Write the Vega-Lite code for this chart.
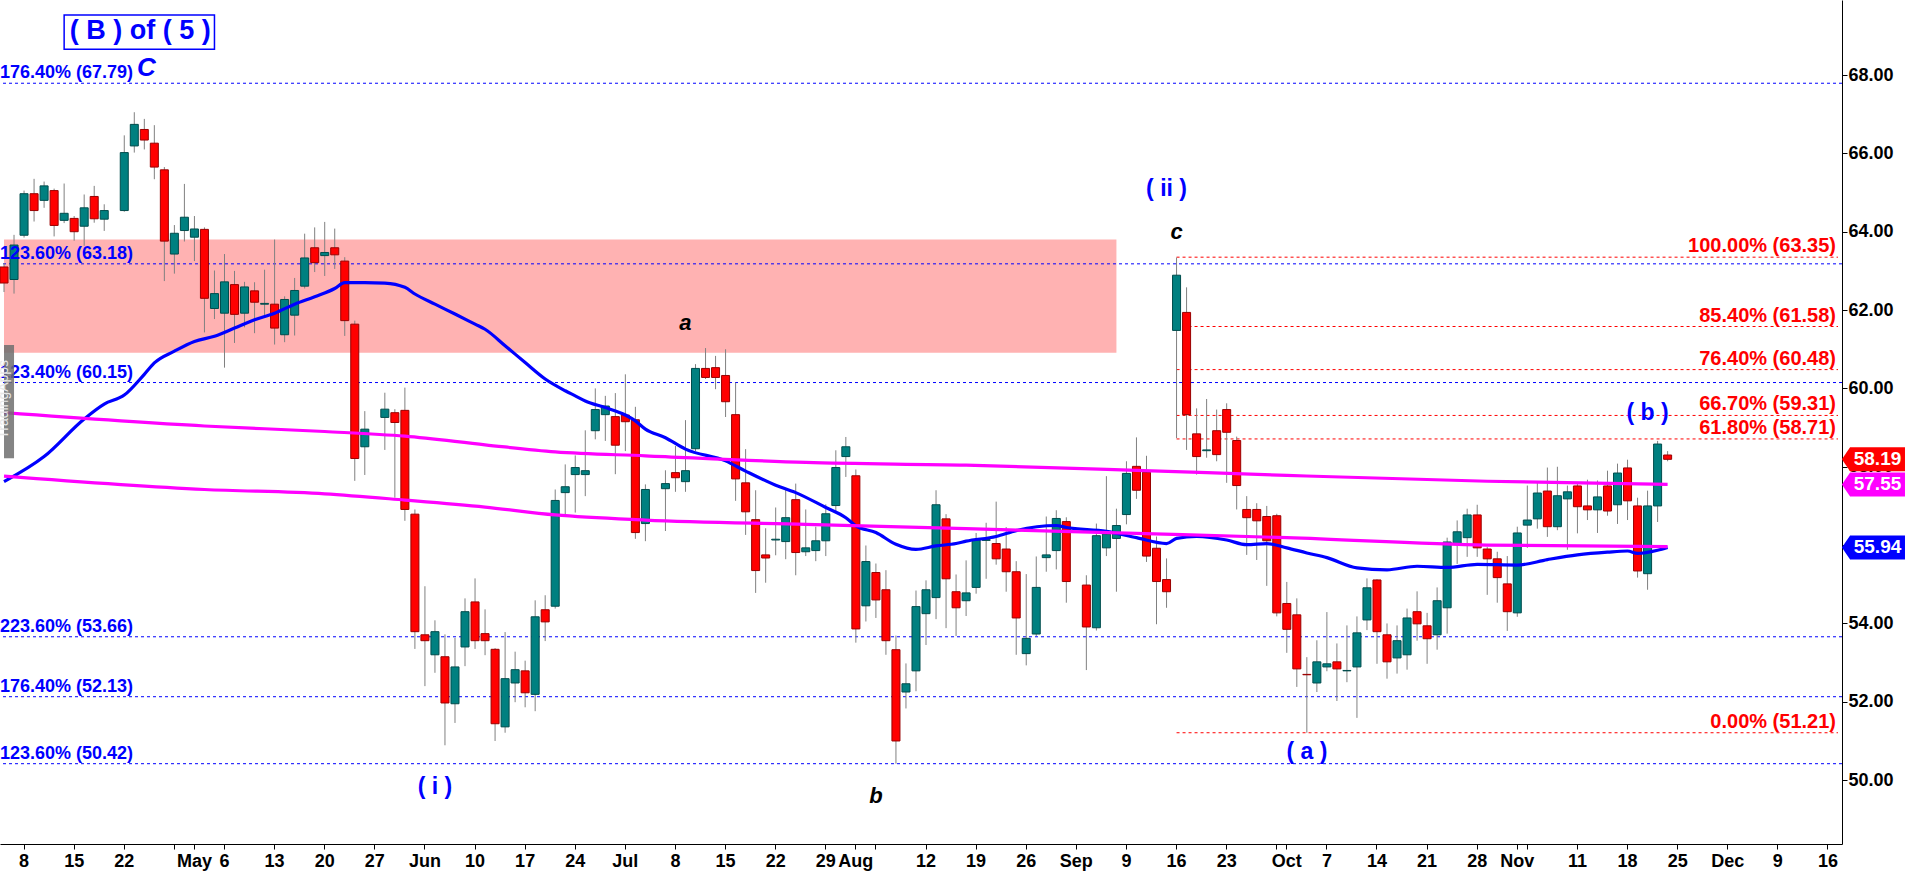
{
  "$schema": "https://vega.github.io/schema/vega-lite/v6.json",
  "width": 1842,
  "height": 844,
  "autosize": {"type": "none"},
  "padding": {"left": 0, "top": 0, "right": 66, "bottom": 33},
  "background": "white",
  "config": {"font": "Liberation Sans", "view": {"stroke": null}},
  "datasets": {
    "zone": [{"d": "2024-04-04", "d2": "2024-09-06", "lo": 60.91, "hi": 63.8}],
    "ext": [
      {"p": 67.79, "t": "176.40% (67.79)"},
      {"p": 63.18, "t": "123.60% (63.18)"},
      {"p": 60.15, "t": "123.40% (60.15)"},
      {"p": 53.66, "t": "223.60% (53.66)"},
      {"p": 52.13, "t": "176.40% (52.13)"},
      {"p": 50.42, "t": "123.60% (50.42)"}
    ],
    "ret": [
      {"p": 63.35, "t": "100.00% (63.35)"},
      {"p": 61.58, "t": "85.40% (61.58)"},
      {"p": 60.48, "t": "76.40% (60.48)"},
      {"p": 59.31, "t": "66.70% (59.31)"},
      {"p": 58.71, "t": "61.80% (58.71)"},
      {"p": 51.21, "t": "0.00% (51.21)"}
    ],
    "candles": [
      {"d": "2024-04-04", "o": 63.10, "h": 63.20, "l": 62.46, "c": 62.69},
      {"d": "2024-04-05", "o": 62.78, "h": 63.92, "l": 62.42, "c": 63.66},
      {"d": "2024-04-08", "o": 63.91, "h": 65.05, "l": 63.85, "c": 64.97},
      {"d": "2024-04-09", "o": 64.97, "h": 65.35, "l": 64.26, "c": 64.54},
      {"d": "2024-04-10", "o": 64.80, "h": 65.28, "l": 64.61, "c": 65.17},
      {"d": "2024-04-11", "o": 65.05, "h": 65.10, "l": 63.88, "c": 64.16},
      {"d": "2024-04-12", "o": 64.29, "h": 65.23, "l": 64.22, "c": 64.47},
      {"d": "2024-04-15", "o": 64.34, "h": 64.40, "l": 63.77, "c": 64.00},
      {"d": "2024-04-16", "o": 64.14, "h": 64.95, "l": 63.64, "c": 64.61},
      {"d": "2024-04-17", "o": 64.90, "h": 65.17, "l": 64.23, "c": 64.33},
      {"d": "2024-04-18", "o": 64.32, "h": 64.70, "l": 64.02, "c": 64.54},
      {"d": "2024-04-22", "o": 64.54, "h": 66.46, "l": 64.51, "c": 66.02},
      {"d": "2024-04-23", "o": 66.19, "h": 67.05, "l": 66.02, "c": 66.74},
      {"d": "2024-04-24", "o": 66.61, "h": 66.88, "l": 66.10, "c": 66.34},
      {"d": "2024-04-25", "o": 66.26, "h": 66.72, "l": 65.34, "c": 65.65},
      {"d": "2024-04-26", "o": 65.58, "h": 65.65, "l": 62.74, "c": 63.76},
      {"d": "2024-04-29", "o": 63.43, "h": 64.17, "l": 62.93, "c": 63.96},
      {"d": "2024-04-30", "o": 64.03, "h": 65.22, "l": 63.75, "c": 64.37},
      {"d": "2024-05-01", "o": 63.86, "h": 64.40, "l": 63.25, "c": 64.07},
      {"d": "2024-05-02", "o": 64.06, "h": 64.11, "l": 61.43, "c": 62.30},
      {"d": "2024-05-03", "o": 62.04, "h": 63.01, "l": 61.77, "c": 62.42},
      {"d": "2024-05-06", "o": 61.92, "h": 63.43, "l": 60.53, "c": 62.72},
      {"d": "2024-05-07", "o": 62.65, "h": 63.00, "l": 61.16, "c": 61.89},
      {"d": "2024-05-08", "o": 61.92, "h": 62.72, "l": 61.56, "c": 62.59},
      {"d": "2024-05-09", "o": 62.49, "h": 62.71, "l": 61.41, "c": 62.20},
      {"d": "2024-05-10", "o": 62.15, "h": 63.03, "l": 61.85, "c": 62.17},
      {"d": "2024-05-13", "o": 62.15, "h": 63.80, "l": 61.12, "c": 61.54},
      {"d": "2024-05-14", "o": 61.37, "h": 62.35, "l": 61.18, "c": 62.27},
      {"d": "2024-05-15", "o": 61.87, "h": 62.82, "l": 61.35, "c": 62.50},
      {"d": "2024-05-16", "o": 62.61, "h": 63.95, "l": 62.55, "c": 63.33},
      {"d": "2024-05-17", "o": 63.59, "h": 64.11, "l": 62.97, "c": 63.21},
      {"d": "2024-05-20", "o": 63.39, "h": 64.25, "l": 62.87, "c": 63.47},
      {"d": "2024-05-21", "o": 63.59, "h": 64.08, "l": 63.05, "c": 63.41},
      {"d": "2024-05-22", "o": 63.25, "h": 63.35, "l": 61.34, "c": 61.73},
      {"d": "2024-05-23", "o": 61.64, "h": 61.73, "l": 57.64, "c": 58.21},
      {"d": "2024-05-24", "o": 58.51, "h": 59.42, "l": 57.79, "c": 58.96},
      {"d": "2024-05-28", "o": 59.26, "h": 59.89, "l": 58.43, "c": 59.47},
      {"d": "2024-05-29", "o": 59.38, "h": 59.47, "l": 57.21, "c": 59.13},
      {"d": "2024-05-30", "o": 59.44, "h": 60.02, "l": 56.62, "c": 56.91},
      {"d": "2024-05-31", "o": 56.79, "h": 56.91, "l": 53.35, "c": 53.79},
      {"d": "2024-06-03", "o": 53.71, "h": 54.95, "l": 52.40, "c": 53.56},
      {"d": "2024-06-04", "o": 53.20, "h": 54.08, "l": 52.74, "c": 53.79},
      {"d": "2024-06-05", "o": 53.15, "h": 53.72, "l": 50.89, "c": 51.97},
      {"d": "2024-06-06", "o": 51.95, "h": 53.63, "l": 51.46, "c": 52.89},
      {"d": "2024-06-07", "o": 53.40, "h": 54.64, "l": 52.91, "c": 54.30},
      {"d": "2024-06-10", "o": 54.55, "h": 55.15, "l": 53.35, "c": 53.56},
      {"d": "2024-06-11", "o": 53.74, "h": 54.36, "l": 53.19, "c": 53.56},
      {"d": "2024-06-12", "o": 53.34, "h": 53.37, "l": 51.00, "c": 51.44},
      {"d": "2024-06-13", "o": 51.36, "h": 53.78, "l": 51.21, "c": 52.59},
      {"d": "2024-06-14", "o": 52.48, "h": 53.28, "l": 51.99, "c": 52.82},
      {"d": "2024-06-17", "o": 52.79, "h": 53.05, "l": 51.86, "c": 52.23},
      {"d": "2024-06-18", "o": 52.19, "h": 54.59, "l": 51.76, "c": 54.17},
      {"d": "2024-06-19", "o": 54.35, "h": 54.72, "l": 53.55, "c": 54.04},
      {"d": "2024-06-20", "o": 54.44, "h": 57.42, "l": 54.38, "c": 57.14},
      {"d": "2024-06-21", "o": 57.34, "h": 58.06, "l": 56.79, "c": 57.49},
      {"d": "2024-06-24", "o": 57.80, "h": 58.29, "l": 56.83, "c": 57.98},
      {"d": "2024-06-25", "o": 57.80, "h": 58.93, "l": 57.25, "c": 57.90},
      {"d": "2024-06-26", "o": 58.92, "h": 60.00, "l": 58.70, "c": 59.46},
      {"d": "2024-06-27", "o": 59.33, "h": 59.81, "l": 58.66, "c": 59.55},
      {"d": "2024-06-28", "o": 59.28, "h": 59.88, "l": 57.81, "c": 58.55},
      {"d": "2024-07-01", "o": 59.32, "h": 60.36, "l": 58.40, "c": 59.15},
      {"d": "2024-07-02", "o": 59.20, "h": 59.53, "l": 56.16, "c": 56.32},
      {"d": "2024-07-03", "o": 56.55, "h": 57.55, "l": 56.10, "c": 57.42},
      {"d": "2024-07-05", "o": 57.44, "h": 57.91, "l": 56.36, "c": 57.57},
      {"d": "2024-07-08", "o": 57.85, "h": 58.53, "l": 57.36, "c": 57.72},
      {"d": "2024-07-09", "o": 57.62, "h": 59.19, "l": 57.36, "c": 57.90},
      {"d": "2024-07-10", "o": 58.46, "h": 60.62, "l": 58.40, "c": 60.51},
      {"d": "2024-07-11", "o": 60.51, "h": 61.03, "l": 60.24, "c": 60.28},
      {"d": "2024-07-12", "o": 60.53, "h": 60.83, "l": 59.98, "c": 60.28},
      {"d": "2024-07-15", "o": 60.33, "h": 61.00, "l": 59.27, "c": 59.66},
      {"d": "2024-07-16", "o": 59.33, "h": 60.15, "l": 57.13, "c": 57.69},
      {"d": "2024-07-17", "o": 57.59, "h": 58.45, "l": 56.26, "c": 56.85},
      {"d": "2024-07-18", "o": 56.65, "h": 57.40, "l": 54.78, "c": 55.35},
      {"d": "2024-07-19", "o": 55.75, "h": 56.43, "l": 55.04, "c": 55.67},
      {"d": "2024-07-22", "o": 56.13, "h": 56.96, "l": 55.74, "c": 56.15},
      {"d": "2024-07-23", "o": 56.09, "h": 57.42, "l": 55.64, "c": 56.70},
      {"d": "2024-07-24", "o": 57.16, "h": 57.57, "l": 55.23, "c": 55.81},
      {"d": "2024-07-25", "o": 55.83, "h": 56.91, "l": 55.72, "c": 55.93},
      {"d": "2024-07-26", "o": 55.86, "h": 56.47, "l": 55.59, "c": 56.11},
      {"d": "2024-07-29", "o": 56.11, "h": 57.04, "l": 55.72, "c": 56.80},
      {"d": "2024-07-30", "o": 57.01, "h": 58.42, "l": 56.85, "c": 57.98},
      {"d": "2024-07-31", "o": 58.26, "h": 58.76, "l": 57.74, "c": 58.51},
      {"d": "2024-08-01", "o": 57.77, "h": 57.93, "l": 53.51, "c": 53.86},
      {"d": "2024-08-02", "o": 54.45, "h": 55.99, "l": 54.05, "c": 55.58},
      {"d": "2024-08-05", "o": 55.30, "h": 55.53, "l": 54.14, "c": 54.60},
      {"d": "2024-08-06", "o": 54.86, "h": 55.36, "l": 53.20, "c": 53.56},
      {"d": "2024-08-07", "o": 53.33, "h": 53.69, "l": 50.42, "c": 51.00},
      {"d": "2024-08-08", "o": 52.25, "h": 52.98, "l": 51.83, "c": 52.46},
      {"d": "2024-08-09", "o": 52.79, "h": 54.84, "l": 52.27, "c": 54.43},
      {"d": "2024-08-12", "o": 54.25, "h": 55.10, "l": 53.45, "c": 54.86},
      {"d": "2024-08-13", "o": 54.66, "h": 57.40, "l": 54.11, "c": 57.03},
      {"d": "2024-08-14", "o": 56.67, "h": 56.79, "l": 53.88, "c": 55.14},
      {"d": "2024-08-15", "o": 54.81, "h": 55.25, "l": 53.68, "c": 54.40},
      {"d": "2024-08-16", "o": 54.58, "h": 55.61, "l": 54.19, "c": 54.78},
      {"d": "2024-08-19", "o": 54.92, "h": 56.31, "l": 54.76, "c": 56.13},
      {"d": "2024-08-20", "o": 56.12, "h": 56.57, "l": 55.14, "c": 56.14},
      {"d": "2024-08-21", "o": 56.04, "h": 57.11, "l": 55.50, "c": 55.65},
      {"d": "2024-08-22", "o": 55.90, "h": 56.46, "l": 54.81, "c": 55.32},
      {"d": "2024-08-23", "o": 55.32, "h": 55.59, "l": 53.20, "c": 54.14},
      {"d": "2024-08-26", "o": 53.23, "h": 55.26, "l": 52.93, "c": 53.62},
      {"d": "2024-08-27", "o": 53.73, "h": 55.71, "l": 53.68, "c": 54.92},
      {"d": "2024-08-28", "o": 55.68, "h": 56.73, "l": 55.32, "c": 55.75},
      {"d": "2024-08-29", "o": 55.86, "h": 56.89, "l": 55.38, "c": 56.68},
      {"d": "2024-08-30", "o": 56.60, "h": 56.71, "l": 54.53, "c": 55.07},
      {"d": "2024-09-03", "o": 54.98, "h": 55.23, "l": 52.81, "c": 53.91},
      {"d": "2024-09-04", "o": 53.89, "h": 56.55, "l": 53.82, "c": 56.24},
      {"d": "2024-09-05", "o": 55.93, "h": 57.76, "l": 55.72, "c": 56.28},
      {"d": "2024-09-06", "o": 56.17, "h": 56.93, "l": 54.81, "c": 56.50},
      {"d": "2024-09-09", "o": 56.78, "h": 58.14, "l": 56.53, "c": 57.83},
      {"d": "2024-09-10", "o": 58.01, "h": 58.75, "l": 57.18, "c": 57.40},
      {"d": "2024-09-11", "o": 57.86, "h": 58.28, "l": 55.57, "c": 55.72},
      {"d": "2024-09-12", "o": 55.92, "h": 56.22, "l": 53.98, "c": 55.07},
      {"d": "2024-09-13", "o": 55.12, "h": 55.66, "l": 54.40, "c": 54.81},
      {"d": "2024-09-16", "o": 61.48, "h": 63.34, "l": 58.73, "c": 62.89},
      {"d": "2024-09-17", "o": 61.94, "h": 62.58, "l": 58.43, "c": 59.33},
      {"d": "2024-09-18", "o": 58.84, "h": 59.49, "l": 57.80, "c": 58.26},
      {"d": "2024-09-19", "o": 58.41, "h": 59.73, "l": 58.23, "c": 58.43},
      {"d": "2024-09-20", "o": 58.92, "h": 59.46, "l": 58.14, "c": 58.31},
      {"d": "2024-09-23", "o": 59.46, "h": 59.62, "l": 57.59, "c": 58.88},
      {"d": "2024-09-24", "o": 58.67, "h": 58.77, "l": 56.91, "c": 57.52},
      {"d": "2024-09-25", "o": 56.91, "h": 57.25, "l": 55.75, "c": 56.70},
      {"d": "2024-09-26", "o": 56.91, "h": 57.07, "l": 55.62, "c": 56.62},
      {"d": "2024-09-27", "o": 56.73, "h": 57.00, "l": 54.96, "c": 56.11},
      {"d": "2024-09-30", "o": 56.75, "h": 56.80, "l": 54.18, "c": 54.27},
      {"d": "2024-10-01", "o": 54.51, "h": 55.06, "l": 53.25, "c": 53.85},
      {"d": "2024-10-02", "o": 54.22, "h": 54.64, "l": 52.38, "c": 52.84},
      {"d": "2024-10-03", "o": 52.70, "h": 53.14, "l": 51.21, "c": 52.69},
      {"d": "2024-10-04", "o": 52.48, "h": 53.57, "l": 52.25, "c": 53.02},
      {"d": "2024-10-07", "o": 52.89, "h": 54.29, "l": 52.78, "c": 52.97},
      {"d": "2024-10-08", "o": 53.02, "h": 53.49, "l": 52.02, "c": 52.84},
      {"d": "2024-10-09", "o": 52.79, "h": 53.95, "l": 52.50, "c": 52.80},
      {"d": "2024-10-10", "o": 52.89, "h": 54.18, "l": 51.59, "c": 53.76},
      {"d": "2024-10-11", "o": 54.09, "h": 55.15, "l": 53.83, "c": 54.91},
      {"d": "2024-10-14", "o": 55.11, "h": 55.13, "l": 52.97, "c": 53.79},
      {"d": "2024-10-15", "o": 53.71, "h": 54.00, "l": 52.59, "c": 53.02},
      {"d": "2024-10-16", "o": 53.12, "h": 53.95, "l": 52.72, "c": 53.56},
      {"d": "2024-10-17", "o": 53.20, "h": 54.38, "l": 52.82, "c": 54.14},
      {"d": "2024-10-18", "o": 54.30, "h": 54.82, "l": 53.56, "c": 53.99},
      {"d": "2024-10-21", "o": 53.94, "h": 54.27, "l": 52.97, "c": 53.61},
      {"d": "2024-10-22", "o": 53.71, "h": 54.92, "l": 53.33, "c": 54.58},
      {"d": "2024-10-23", "o": 54.40, "h": 56.19, "l": 53.74, "c": 56.08},
      {"d": "2024-10-24", "o": 56.03, "h": 56.63, "l": 55.52, "c": 56.34},
      {"d": "2024-10-25", "o": 56.19, "h": 56.93, "l": 55.70, "c": 56.77},
      {"d": "2024-10-28", "o": 56.77, "h": 57.03, "l": 55.70, "c": 55.93},
      {"d": "2024-10-29", "o": 55.90, "h": 55.95, "l": 54.73, "c": 55.65},
      {"d": "2024-10-30", "o": 55.65, "h": 55.83, "l": 54.53, "c": 55.17},
      {"d": "2024-10-31", "o": 55.01, "h": 55.72, "l": 53.81, "c": 54.30},
      {"d": "2024-11-01", "o": 54.27, "h": 56.47, "l": 54.17, "c": 56.31},
      {"d": "2024-11-04", "o": 56.51, "h": 57.52, "l": 55.93, "c": 56.64},
      {"d": "2024-11-05", "o": 56.67, "h": 57.62, "l": 56.42, "c": 57.33},
      {"d": "2024-11-06", "o": 57.38, "h": 57.98, "l": 56.21, "c": 56.47},
      {"d": "2024-11-07", "o": 56.47, "h": 58.00, "l": 56.38, "c": 57.26},
      {"d": "2024-11-08", "o": 57.18, "h": 57.52, "l": 55.88, "c": 57.36},
      {"d": "2024-11-11", "o": 57.51, "h": 57.60, "l": 56.30, "c": 56.98},
      {"d": "2024-11-12", "o": 57.00, "h": 57.67, "l": 56.64, "c": 56.90},
      {"d": "2024-11-13", "o": 56.90, "h": 57.65, "l": 56.31, "c": 57.23},
      {"d": "2024-11-14", "o": 57.51, "h": 57.90, "l": 56.75, "c": 56.87},
      {"d": "2024-11-15", "o": 57.03, "h": 58.08, "l": 56.54, "c": 57.84},
      {"d": "2024-11-18", "o": 57.97, "h": 58.18, "l": 56.64, "c": 57.13},
      {"d": "2024-11-19", "o": 57.00, "h": 57.21, "l": 55.17, "c": 55.34},
      {"d": "2024-11-20", "o": 55.27, "h": 57.39, "l": 54.86, "c": 57.00},
      {"d": "2024-11-21", "o": 57.00, "h": 58.66, "l": 56.59, "c": 58.58},
      {"d": "2024-11-22", "o": 58.30, "h": 58.40, "l": 58.14, "c": 58.19}
    ],
    "ma": [
      {"d": "2024-04-04", "s": "ma50", "v": 57.62},
      {"d": "2024-04-10", "s": "ma50", "v": 58.26},
      {"d": "2024-04-16", "s": "ma50", "v": 59.22},
      {"d": "2024-04-18", "s": "ma50", "v": 59.60},
      {"d": "2024-04-22", "s": "ma50", "v": 59.83},
      {"d": "2024-04-24", "s": "ma50", "v": 60.36},
      {"d": "2024-04-25", "s": "ma50", "v": 60.65},
      {"d": "2024-04-29", "s": "ma50", "v": 60.95},
      {"d": "2024-05-01", "s": "ma50", "v": 61.20},
      {"d": "2024-05-03", "s": "ma50", "v": 61.33},
      {"d": "2024-05-07", "s": "ma50", "v": 61.54},
      {"d": "2024-05-09", "s": "ma50", "v": 61.75},
      {"d": "2024-05-13", "s": "ma50", "v": 61.92},
      {"d": "2024-05-15", "s": "ma50", "v": 62.15},
      {"d": "2024-05-17", "s": "ma50", "v": 62.34},
      {"d": "2024-05-21", "s": "ma50", "v": 62.55},
      {"d": "2024-05-22", "s": "ma50", "v": 62.70},
      {"d": "2024-05-24", "s": "ma50", "v": 62.70},
      {"d": "2024-05-28", "s": "ma50", "v": 62.69},
      {"d": "2024-05-30", "s": "ma50", "v": 62.58},
      {"d": "2024-05-31", "s": "ma50", "v": 62.41},
      {"d": "2024-06-04", "s": "ma50", "v": 62.15},
      {"d": "2024-06-06", "s": "ma50", "v": 61.90},
      {"d": "2024-06-10", "s": "ma50", "v": 61.64},
      {"d": "2024-06-11", "s": "ma50", "v": 61.51},
      {"d": "2024-06-13", "s": "ma50", "v": 61.09},
      {"d": "2024-06-17", "s": "ma50", "v": 60.66},
      {"d": "2024-06-19", "s": "ma50", "v": 60.24},
      {"d": "2024-06-21", "s": "ma50", "v": 59.94},
      {"d": "2024-06-24", "s": "ma50", "v": 59.81},
      {"d": "2024-06-25", "s": "ma50", "v": 59.68},
      {"d": "2024-06-27", "s": "ma50", "v": 59.51},
      {"d": "2024-07-01", "s": "ma50", "v": 59.32},
      {"d": "2024-07-02", "s": "ma50", "v": 59.17},
      {"d": "2024-07-03", "s": "ma50", "v": 58.96},
      {"d": "2024-07-05", "s": "ma50", "v": 58.74},
      {"d": "2024-07-09", "s": "ma50", "v": 58.45},
      {"d": "2024-07-15", "s": "ma50", "v": 58.15},
      {"d": "2024-07-17", "s": "ma50", "v": 57.89},
      {"d": "2024-07-22", "s": "ma50", "v": 57.53},
      {"d": "2024-07-24", "s": "ma50", "v": 57.34},
      {"d": "2024-07-29", "s": "ma50", "v": 56.96},
      {"d": "2024-07-31", "s": "ma50", "v": 56.70},
      {"d": "2024-08-01", "s": "ma50", "v": 56.49},
      {"d": "2024-08-05", "s": "ma50", "v": 56.32},
      {"d": "2024-08-07", "s": "ma50", "v": 56.02},
      {"d": "2024-08-09", "s": "ma50", "v": 55.89},
      {"d": "2024-08-13", "s": "ma50", "v": 55.98},
      {"d": "2024-08-15", "s": "ma50", "v": 56.04},
      {"d": "2024-08-16", "s": "ma50", "v": 56.10},
      {"d": "2024-08-21", "s": "ma50", "v": 56.22},
      {"d": "2024-08-23", "s": "ma50", "v": 56.37},
      {"d": "2024-08-29", "s": "ma50", "v": 56.50},
      {"d": "2024-08-30", "s": "ma50", "v": 56.45},
      {"d": "2024-09-05", "s": "ma50", "v": 56.35},
      {"d": "2024-09-10", "s": "ma50", "v": 56.19},
      {"d": "2024-09-13", "s": "ma50", "v": 56.04},
      {"d": "2024-09-16", "s": "ma50", "v": 56.17},
      {"d": "2024-09-18", "s": "ma50", "v": 56.22},
      {"d": "2024-09-23", "s": "ma50", "v": 56.13},
      {"d": "2024-09-25", "s": "ma50", "v": 56.01},
      {"d": "2024-09-27", "s": "ma50", "v": 56.04},
      {"d": "2024-10-01", "s": "ma50", "v": 55.93},
      {"d": "2024-10-03", "s": "ma50", "v": 55.80},
      {"d": "2024-10-07", "s": "ma50", "v": 55.68},
      {"d": "2024-10-10", "s": "ma50", "v": 55.42},
      {"d": "2024-10-15", "s": "ma50", "v": 55.37},
      {"d": "2024-10-18", "s": "ma50", "v": 55.46},
      {"d": "2024-10-23", "s": "ma50", "v": 55.43},
      {"d": "2024-10-28", "s": "ma50", "v": 55.51},
      {"d": "2024-11-01", "s": "ma50", "v": 55.49},
      {"d": "2024-11-06", "s": "ma50", "v": 55.63},
      {"d": "2024-11-11", "s": "ma50", "v": 55.75},
      {"d": "2024-11-14", "s": "ma50", "v": 55.82},
      {"d": "2024-11-18", "s": "ma50", "v": 55.85},
      {"d": "2024-11-19", "s": "ma50", "v": 55.79},
      {"d": "2024-11-21", "s": "ma50", "v": 55.87},
      {"d": "2024-11-22", "s": "ma50", "v": 55.94},
      {"d": "2024-04-04", "s": "hi", "v": 59.38},
      {"d": "2024-05-02", "s": "hi", "v": 59.04},
      {"d": "2024-05-20", "s": "hi", "v": 58.90},
      {"d": "2024-05-30", "s": "hi", "v": 58.78},
      {"d": "2024-06-11", "s": "hi", "v": 58.56},
      {"d": "2024-06-20", "s": "hi", "v": 58.38},
      {"d": "2024-07-03", "s": "hi", "v": 58.28},
      {"d": "2024-07-25", "s": "hi", "v": 58.11},
      {"d": "2024-08-16", "s": "hi", "v": 58.04},
      {"d": "2024-09-10", "s": "hi", "v": 57.91},
      {"d": "2024-10-01", "s": "hi", "v": 57.78},
      {"d": "2024-10-29", "s": "hi", "v": 57.63},
      {"d": "2024-11-22", "s": "hi", "v": 57.55},
      {"d": "2024-04-04", "s": "lo", "v": 57.76},
      {"d": "2024-05-02", "s": "lo", "v": 57.42},
      {"d": "2024-05-20", "s": "lo", "v": 57.31},
      {"d": "2024-05-30", "s": "lo", "v": 57.15},
      {"d": "2024-06-11", "s": "lo", "v": 56.97},
      {"d": "2024-06-20", "s": "lo", "v": 56.77},
      {"d": "2024-07-03", "s": "lo", "v": 56.64},
      {"d": "2024-07-25", "s": "lo", "v": 56.53},
      {"d": "2024-08-16", "s": "lo", "v": 56.42},
      {"d": "2024-09-10", "s": "lo", "v": 56.30},
      {"d": "2024-10-01", "s": "lo", "v": 56.19},
      {"d": "2024-10-29", "s": "lo", "v": 56.00},
      {"d": "2024-11-22", "s": "lo", "v": 55.96}
    ],
    "waves": [
      {"d": "2024-06-04", "p": 49.82, "t": "( i )"},
      {"d": "2024-09-13", "p": 65.10, "t": "( ii )"},
      {"d": "2024-10-03", "p": 50.72, "t": "( a )"},
      {"d": "2024-11-20", "p": 59.37, "t": "( b )"}
    ],
    "subwaves": [
      {"d": "2024-07-09", "p": 61.68, "t": "a"},
      {"d": "2024-08-05", "p": 49.59, "t": "b"},
      {"d": "2024-09-16", "p": 63.99, "t": "c"}
    ],
    "major": [{"d": "2024-04-23", "p": 68.18, "t": "C"}],
    "titlebox": [{"d": "2024-04-12", "d2": "2024-05-03", "p": 69.53, "p2": 68.66}],
    "titletext": [{"d": "2024-04-24", "p": 69.12, "t": "( B ) of ( 5 )"}],
    "mark": [{"d": "2024-04-04", "d2": "2024-04-05", "p": 61.11, "p2": 58.22, "pm": 59.67, "t": "TradingApps"}]
  },
  "layer": [
    {
      "data": {"name": "zone"},
      "mark": {"type": "rect", "color": "#ffb2b2"},
      "encoding": {
        "x": {
          "field": "d",
          "type": "ordinal",
          "title": null,
          "scale": {
            "type": "band",
            "paddingInner": 0.2,
            "paddingOuter": 0,
            "domain": [
              "2024-04-04","2024-04-05","2024-04-08","2024-04-09","2024-04-10","2024-04-11","2024-04-12","2024-04-15","2024-04-16","2024-04-17","2024-04-18","2024-04-19","2024-04-22","2024-04-23","2024-04-24","2024-04-25","2024-04-26","2024-04-29","2024-04-30",
              "2024-05-01","2024-05-02","2024-05-03","2024-05-06","2024-05-07","2024-05-08","2024-05-09","2024-05-10","2024-05-13","2024-05-14","2024-05-15","2024-05-16","2024-05-17","2024-05-20","2024-05-21","2024-05-22","2024-05-23","2024-05-24","2024-05-27","2024-05-28","2024-05-29","2024-05-30","2024-05-31",
              "2024-06-03","2024-06-04","2024-06-05","2024-06-06","2024-06-07","2024-06-10","2024-06-11","2024-06-12","2024-06-13","2024-06-14","2024-06-17","2024-06-18","2024-06-19","2024-06-20","2024-06-21","2024-06-24","2024-06-25","2024-06-26","2024-06-27","2024-06-28",
              "2024-07-01","2024-07-02","2024-07-03","2024-07-04","2024-07-05","2024-07-08","2024-07-09","2024-07-10","2024-07-11","2024-07-12","2024-07-15","2024-07-16","2024-07-17","2024-07-18","2024-07-19","2024-07-22","2024-07-23","2024-07-24","2024-07-25","2024-07-26","2024-07-29","2024-07-30","2024-07-31",
              "2024-08-01","2024-08-02","2024-08-05","2024-08-06","2024-08-07","2024-08-08","2024-08-09","2024-08-12","2024-08-13","2024-08-14","2024-08-15","2024-08-16","2024-08-19","2024-08-20","2024-08-21","2024-08-22","2024-08-23","2024-08-26","2024-08-27","2024-08-28","2024-08-29","2024-08-30",
              "2024-09-02","2024-09-03","2024-09-04","2024-09-05","2024-09-06","2024-09-09","2024-09-10","2024-09-11","2024-09-12","2024-09-13","2024-09-16","2024-09-17","2024-09-18","2024-09-19","2024-09-20","2024-09-23","2024-09-24","2024-09-25","2024-09-26","2024-09-27","2024-09-30",
              "2024-10-01","2024-10-02","2024-10-03","2024-10-04","2024-10-07","2024-10-08","2024-10-09","2024-10-10","2024-10-11","2024-10-14","2024-10-15","2024-10-16","2024-10-17","2024-10-18","2024-10-21","2024-10-22","2024-10-23","2024-10-24","2024-10-25","2024-10-28","2024-10-29","2024-10-30","2024-10-31",
              "2024-11-01","2024-11-04","2024-11-05","2024-11-06","2024-11-07","2024-11-08","2024-11-11","2024-11-12","2024-11-13","2024-11-14","2024-11-15","2024-11-18","2024-11-19","2024-11-20","2024-11-21","2024-11-22","2024-11-25","2024-11-26","2024-11-27","2024-11-28","2024-11-29",
              "2024-12-02","2024-12-03","2024-12-04","2024-12-05","2024-12-06","2024-12-09","2024-12-10","2024-12-11","2024-12-12","2024-12-13","2024-12-16","2024-12-17"
            ]
          },
          "axis": {
            "title": null,
            "values": ["2024-04-08","2024-04-15","2024-04-22","2024-04-29","2024-05-01","2024-05-06","2024-05-13","2024-05-20","2024-05-27","2024-06-03","2024-06-10","2024-06-17","2024-06-24","2024-07-01","2024-07-08","2024-07-15","2024-07-22","2024-07-29","2024-08-01","2024-08-05","2024-08-12","2024-08-19","2024-08-26","2024-09-02","2024-09-09","2024-09-16","2024-09-23","2024-09-30","2024-10-01","2024-10-07","2024-10-14","2024-10-21","2024-10-28","2024-11-01","2024-11-04","2024-11-11","2024-11-18","2024-11-25","2024-12-02","2024-12-09","2024-12-16"],
            "labelExpr": "indexof(['2024-04-29','2024-08-05','2024-09-30','2024-11-04'], datum.value) >= 0 ? '' : indexof(['2024-05-01','2024-06-03','2024-07-01','2024-08-01','2024-09-02','2024-10-01','2024-11-01','2024-12-02'], datum.value) >= 0 ? timeFormat(datetime(toNumber(substring(datum.value, 0, 4)), toNumber(substring(datum.value, 5, 7)) - 1, 1), '%b') : '' + toNumber(substring(datum.value, 8, 10))",
            "labelAngle": 0,
            "labelOverlap": false,
            "labelFont": "Liberation Sans",
            "labelFontSize": 18,
            "labelFontWeight": "bold",
            "labelColor": "#000000",
            "labelPadding": 3,
            "tickSize": 5,
            "tickColor": "#000000",
            "domainColor": "#000000",
            "grid": false
          }
        },
        "x2": {"field": "d2"},
        "y": {
          "field": "lo",
          "type": "quantitative",
          "title": null,
          "scale": {"domain": [48.37, 69.915], "nice": false, "zero": false},
          "axis": {
            "title": null,
            "orient": "right",
            "values": [50, 52, 54, 56, 58, 60, 62, 64, 66, 68],
            "format": ".2f",
            "labelFont": "Liberation Sans",
            "labelFontSize": 18,
            "labelFontWeight": "bold",
            "labelColor": "#000000",
            "labelPadding": 1,
            "tickSize": 5,
            "tickColor": "#000000",
            "domainColor": "#000000",
            "grid": false
          }
        },
        "y2": {"field": "hi"}
      }
    },
    {
      "data": {"name": "ext"},
      "mark": {"type": "rule", "color": "#0000ff", "strokeWidth": 1, "strokeDash": [3, 3]},
      "encoding": {"y": {"field": "p", "type": "quantitative", "title": null}}
    },
    {
      "data": {"name": "ret"},
      "mark": {"type": "rule", "color": "#ff0000", "strokeWidth": 1, "strokeDash": [3, 3]},
      "encoding": {
        "x": {"datum": "2024-09-16", "type": "ordinal", "title": null},
        "x2": {"datum": "2024-12-17"},
        "y": {"field": "p", "type": "quantitative", "title": null}
      }
    },
    {
      "data": {"name": "candles"},
      "mark": {"type": "rule", "color": "#808080", "strokeWidth": 1},
      "encoding": {
        "x": {"field": "d", "type": "ordinal", "title": null},
        "y": {"field": "l", "type": "quantitative", "title": null},
        "y2": {"field": "h"}
      }
    },
    {
      "data": {"name": "candles"},
      "mark": {"type": "bar", "strokeWidth": 1},
      "encoding": {
        "x": {"field": "d", "type": "ordinal", "title": null},
        "y": {"field": "o", "type": "quantitative", "title": null},
        "y2": {"field": "c"},
        "fill": {"condition": {"test": "datum.c >= datum.o", "value": "#008080"}, "value": "#ff0000"},
        "stroke": {"condition": {"test": "datum.c >= datum.o", "value": "#004c4c"}, "value": "#990000"}
      }
    },
    {
      "data": {"name": "ma"},
      "mark": {"type": "line", "strokeWidth": 3.2, "interpolate": "monotone"},
      "encoding": {
        "x": {"field": "d", "type": "ordinal", "title": null},
        "y": {"field": "v", "type": "quantitative", "title": null},
        "detail": {"field": "s"},
        "color": {"condition": {"test": "datum.s == 'ma50'", "value": "#0000ff"}, "value": "#ff00ff"}
      }
    },
    {
      "data": {"name": "ext"},
      "mark": {"type": "text", "align": "left", "baseline": "alphabetic", "dx": -4, "dy": -5, "fontSize": 18, "fontWeight": "bold", "color": "#0000ff"},
      "encoding": {
        "x": {"datum": "2024-04-04", "type": "ordinal", "title": null},
        "y": {"field": "p", "type": "quantitative", "title": null},
        "text": {"field": "t"}
      }
    },
    {
      "data": {"name": "ret"},
      "mark": {"type": "text", "align": "right", "baseline": "alphabetic", "dx": -2, "dy": -5, "fontSize": 20, "fontWeight": "bold", "color": "#ff0000"},
      "encoding": {
        "x": {"datum": "2024-12-17", "type": "ordinal", "title": null},
        "y": {"field": "p", "type": "quantitative", "title": null},
        "text": {"field": "t"}
      }
    },
    {
      "data": {"name": "waves"},
      "mark": {"type": "text", "align": "center", "baseline": "middle", "fontSize": 23, "fontWeight": "bold", "color": "#0000ff"},
      "encoding": {
        "x": {"field": "d", "type": "ordinal", "title": null},
        "y": {"field": "p", "type": "quantitative", "title": null},
        "text": {"field": "t"}
      }
    },
    {
      "data": {"name": "subwaves"},
      "mark": {"type": "text", "align": "center", "baseline": "middle", "fontSize": 22, "fontWeight": "bold", "fontStyle": "italic", "color": "#000000"},
      "encoding": {
        "x": {"field": "d", "type": "ordinal", "title": null},
        "y": {"field": "p", "type": "quantitative", "title": null},
        "text": {"field": "t"}
      }
    },
    {
      "data": {"name": "major"},
      "mark": {"type": "text", "align": "center", "baseline": "middle", "dx": 12, "fontSize": 26, "fontWeight": "bold", "fontStyle": "italic", "color": "#0000ff"},
      "encoding": {
        "x": {"field": "d", "type": "ordinal", "title": null},
        "y": {"field": "p", "type": "quantitative", "title": null},
        "text": {"field": "t"}
      }
    },
    {
      "data": {"name": "titlebox"},
      "mark": {"type": "rect", "fill": "#ffffff", "stroke": "#0000ff", "strokeWidth": 1.5},
      "encoding": {
        "x": {"field": "d", "type": "ordinal", "title": null},
        "x2": {"field": "d2"},
        "y": {"field": "p", "type": "quantitative", "title": null},
        "y2": {"field": "p2"}
      }
    },
    {
      "data": {"name": "titletext"},
      "mark": {"type": "text", "align": "center", "baseline": "middle", "dx": -4, "fontSize": 27, "fontWeight": "bold", "color": "#0000ff"},
      "encoding": {
        "x": {"field": "d", "type": "ordinal", "title": null},
        "y": {"field": "p", "type": "quantitative", "title": null},
        "text": {"field": "t"}
      }
    },
    {
      "data": {"name": "mark"},
      "mark": {"type": "rect", "color": "#6e6e6e", "opacity": 0.85},
      "encoding": {
        "x": {"field": "d", "type": "ordinal", "title": null},
        "x2": {"field": "d2"},
        "y": {"field": "p", "type": "quantitative", "title": null},
        "y2": {"field": "p2"}
      }
    },
    {
      "data": {"name": "mark"},
      "mark": {"type": "text", "angle": 270, "align": "center", "baseline": "middle", "dx": 2, "fontSize": 14, "color": "#e6e6e6"},
      "encoding": {
        "x": {"field": "d", "type": "ordinal", "title": null},
        "y": {"field": "pm", "type": "quantitative", "title": null},
        "text": {"field": "t"}
      }
    },
    {
      "data": {"name": "ma"},
      "transform": [{"filter": "datum.d == '2024-11-22' && datum.s != 'lo'"}],
      "layer": [
        {
          "mark": {"type": "tick", "thickness": 24, "size": 55, "xOffset": 39.5, "opacity": 1},
          "encoding": {
            "x": {"datum": "2024-12-17", "type": "ordinal", "title": null},
            "y": {"field": "v", "type": "quantitative", "title": null},
            "color": {"condition": {"test": "datum.s == 'ma50'", "value": "#0000ff"}, "value": "#ff00ff"}
          }
        },
        {
          "mark": {"type": "point", "shape": "M -0.34 0 L 0.34 -1 L 0.34 1 Z", "size": 576, "filled": true, "opacity": 1, "xOffset": 8},
          "encoding": {
            "x": {"datum": "2024-12-17", "type": "ordinal", "title": null},
            "y": {"field": "v", "type": "quantitative", "title": null},
            "color": {"condition": {"test": "datum.s == 'ma50'", "value": "#0000ff"}, "value": "#ff00ff"}
          }
        },
        {
          "mark": {"type": "text", "align": "center", "baseline": "middle", "dx": 39.5, "fontSize": 19, "fontWeight": "bold", "color": "#ffffff"},
          "encoding": {
            "x": {"datum": "2024-12-17", "type": "ordinal", "title": null},
            "y": {"field": "v", "type": "quantitative", "title": null},
            "text": {"field": "v", "format": ".2f"}
          }
        }
      ]
    },
    {
      "data": {"name": "candles"},
      "transform": [{"filter": "datum.d == '2024-11-22'"}],
      "layer": [
        {
          "mark": {"type": "tick", "thickness": 24, "size": 55, "xOffset": 39.5, "opacity": 1, "color": "#ff0000"},
          "encoding": {
            "x": {"datum": "2024-12-17", "type": "ordinal", "title": null},
            "y": {"field": "c", "type": "quantitative", "title": null}
          }
        },
        {
          "mark": {"type": "point", "shape": "M -0.34 0 L 0.34 -1 L 0.34 1 Z", "size": 576, "filled": true, "opacity": 1, "xOffset": 8, "color": "#ff0000"},
          "encoding": {
            "x": {"datum": "2024-12-17", "type": "ordinal", "title": null},
            "y": {"field": "c", "type": "quantitative", "title": null}
          }
        },
        {
          "mark": {"type": "text", "align": "center", "baseline": "middle", "dx": 39.5, "fontSize": 19, "fontWeight": "bold", "color": "#ffffff"},
          "encoding": {
            "x": {"datum": "2024-12-17", "type": "ordinal", "title": null},
            "y": {"field": "c", "type": "quantitative", "title": null},
            "text": {"field": "c", "format": ".2f"}
          }
        }
      ]
    }
  ]
}
